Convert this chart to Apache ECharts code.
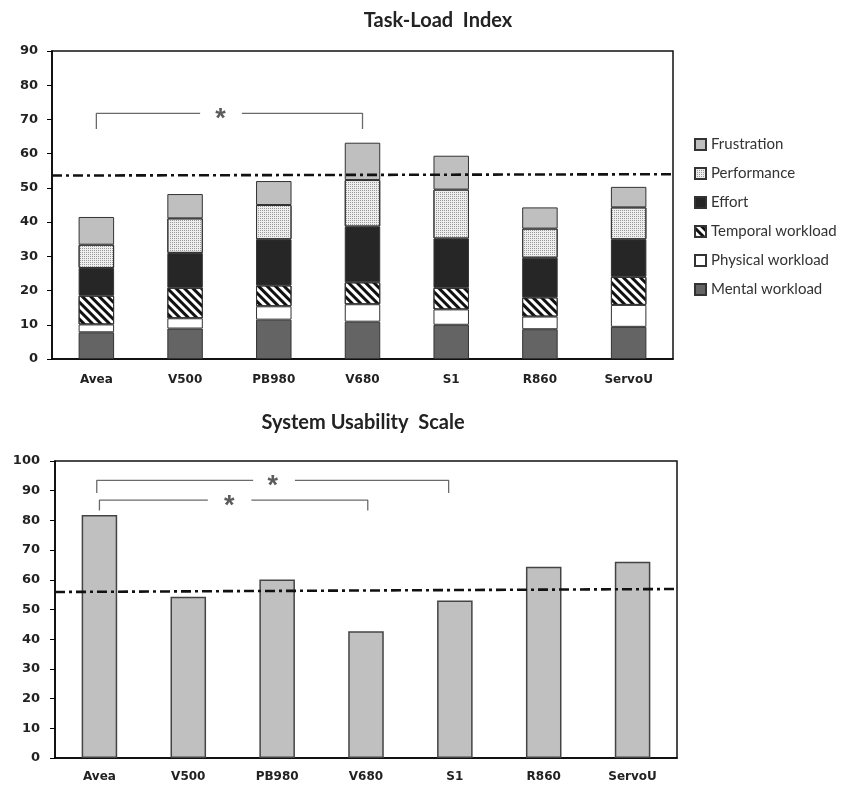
<!DOCTYPE html>
<html><head><meta charset="utf-8">
<script src="https://cdn.jsdelivr.net/npm/echarts@6/dist/echarts.min.js"></script>
<style>html,body{margin:0;padding:0;background:#fff}#c{width:844px;height:787px}</style>
</head><body><div id="c"></div>
<script>
// ---- data ----
const categories = ['Avea', 'V500', 'PB980', 'V680', 'S1', 'R860', 'ServoU'];
const mental      = [7.8, 8.9, 11.5, 10.9, 10.0, 8.7, 9.4];
const physical    = [2.3, 3.0, 3.9, 5.1, 4.5, 3.7, 6.4];
const temporal    = [8.4, 8.9, 6.1, 6.4, 6.3, 5.6, 8.2];
const effort      = [8.1, 10.2, 13.5, 16.3, 14.4, 11.6, 11.0];
const performance = [6.8, 10.1, 10.0, 13.6, 14.3, 8.5, 9.3];
const frustration = [8.1, 7.1, 7.0, 10.9, 9.9, 6.2, 6.0];
const sus         = [81.8, 54.3, 60.1, 42.7, 53.0, 64.4, 66.1];
const tlxMeanLine = [53.6, 54.0];   // left end, right end
const susMeanLine = [55.9, 56.9];
const tlxTicks = [0, 90, 10];
const susTicks = [0, 100, 10];
const legendOrder = ['Frustration', 'Performance', 'Effort', 'Temporal workload', 'Physical workload', 'Mental workload'];
// significance brackets: [from, to, level, drop, gapFrom, gapTo, starX]
const tlxBrackets = [[0, 3, 71.8, 4.6, 1.17, 1.64, 1.40]];
const susBrackets = [[-0.03, 3.93, 93.5, 4.3, 1.73, 2.20, 1.95],
                     [0, 3.02, 86.8, 3.5, 1.22, 1.71, 1.46]];

// ---- styles ----
const tickFont = {fontFamily: 'DejaVu Sans', fontWeight: 'bold', color: '#222'};
const border = {borderColor: '#333', borderWidth: 1};

function bracketSeries(list, xi, yi) {
  const out = [];
  list.forEach(b => {
    const [a, c, lv, drop, g1, g2, sx] = b;
    const ls = {color: '#6a6a6a', width: 1.3};
    out.push({type: 'line', xAxisIndex: xi, yAxisIndex: yi, symbol: 'none', silent: true, z: 5,
      lineStyle: ls, data: [[a, lv - drop], [a, lv], [g1, lv]]});
    out.push({type: 'line', xAxisIndex: xi, yAxisIndex: yi, symbol: 'none', silent: true, z: 5,
      lineStyle: ls, data: [[g2, lv], [c, lv], [c, lv - drop]]});
    out.push({type: 'scatter', xAxisIndex: xi, yAxisIndex: yi, symbolSize: 1, silent: true, z: 6,
      itemStyle: {color: 'rgba(0,0,0,0)'},
      label: {show: true, formatter: '*', position: 'inside', offset: [0, 6], fontSize: 27,
        fontWeight: 'bold', fontFamily: 'Liberation Sans', color: '#333'},
      data: [[sx, lv]]});
  });
  return out;
}

function stackBar(name, data, style) {
  return {name, type: 'bar', stack: 'tlx', xAxisIndex: 0, yAxisIndex: 0, barWidth: '40%',
    data, itemStyle: Object.assign({}, border, style)};
}

const yAxisCommon = {
  type: 'value', splitLine: {show: false},
  axisLine: {show: true, onZero: false, lineStyle: {color: '#000', width: 1.5}},
  axisTick: {show: true, length: 5, lineStyle: {color: '#000'}}
};

const option = {
  animation: false,
  backgroundColor: '#fff',
  title: [
    {text: 'Task-Load  Index', left: 433, top: 6, textAlign: 'center',
     textStyle: {fontFamily: 'Lato', fontWeight: 'bold', fontSize: 20, color: '#222'}},
    {text: 'System Usability  Scale', left: 358, top: 408, textAlign: 'center',
     textStyle: {fontFamily: 'Lato', fontWeight: 'bold', fontSize: 20, color: '#222'}}
  ],
  legend: {
    data: legendOrder, orient: 'vertical', left: 689, top: 132, itemGap: 14,
    itemWidth: 11, itemHeight: 11, icon: 'rect', selectedMode: false,
    textStyle: {fontFamily: 'Lato', fontSize: 15, color: '#333'}
  },
  grid: [
    {left: 52, right: 171, top: 51, height: 308, show: true, borderColor: '#111', borderWidth: 1.5},
    {left: 55, right: 167, top: 461, height: 297, show: true, borderColor: '#111', borderWidth: 1.5}
  ],
  xAxis: [
    {type: 'category', gridIndex: 0, data: categories,
     axisLine: {lineStyle: {color: '#000', width: 1.5}},
     axisTick: {length: 5, lineStyle: {color: '#000'}},
     axisLabel: Object.assign({fontSize: 12, margin: 15}, tickFont)},
    {type: 'category', gridIndex: 1, data: categories,
     axisLine: {lineStyle: {color: '#000', width: 1.5}},
     axisTick: {length: 5, lineStyle: {color: '#000'}},
     axisLabel: Object.assign({fontSize: 12, margin: 13}, tickFont)},
    {type: 'value', gridIndex: 0, min: -0.5, max: 6.5, show: false},
    {type: 'value', gridIndex: 1, min: -0.5, max: 6.5, show: false}
  ],
  yAxis: [
    Object.assign({gridIndex: 0, min: tlxTicks[0], max: tlxTicks[1], interval: tlxTicks[2],
     axisLabel: Object.assign({fontSize: 13, margin: 14}, tickFont)}, yAxisCommon),
    Object.assign({gridIndex: 1, min: susTicks[0], max: susTicks[1], interval: susTicks[2],
     axisLabel: Object.assign({fontSize: 13, margin: 15}, tickFont)}, yAxisCommon)
  ],
  series: [
    stackBar('Mental workload', mental, {color: '#646464'}),
    stackBar('Physical workload', physical, {color: '#ffffff'}),
    stackBar('Temporal workload', temporal, {color: '#ffffff',
      decal: {symbol: 'rect', symbolSize: 1, color: '#111', dashArrayX: [1, 0], dashArrayY: [3, 3],
              rotation: Math.PI / 4}}),
    stackBar('Effort', effort, {color: '#262626'}),
    stackBar('Performance', performance, {color: '#eeeeee',
      decal: {symbol: 'rect', symbolSize: 1, color: '#9a9a9a', dashArrayX: [1, 1], dashArrayY: [1, 1],
              rotation: 0}}),
    stackBar('Frustration', frustration, {color: '#bfbfbf'}),
    {type: 'line', xAxisIndex: 2, yAxisIndex: 0, symbol: 'none', silent: true, z: 7,
     lineStyle: {color: '#111', width: 2.6, type: [10, 4, 3, 4]},
     data: [[-0.5, tlxMeanLine[0]], [6.5, tlxMeanLine[1]]]},
    ...bracketSeries(tlxBrackets, 2, 0),
    {name: 'SUS', type: 'bar', xAxisIndex: 1, yAxisIndex: 1, barWidth: '40%', data: sus,
     itemStyle: {color: '#c0c0c0', borderColor: '#444', borderWidth: 1.5}},
    {type: 'line', xAxisIndex: 3, yAxisIndex: 1, symbol: 'none', silent: true, z: 7,
     lineStyle: {color: '#111', width: 2.6, type: [10, 4, 3, 4]},
     data: [[-0.5, susMeanLine[0]], [6.5, susMeanLine[1]]]},
    ...bracketSeries(susBrackets, 3, 1)
  ]
};
const chart = echarts.init(document.getElementById('c'));
chart.setOption(option);
</script>
</body></html>
